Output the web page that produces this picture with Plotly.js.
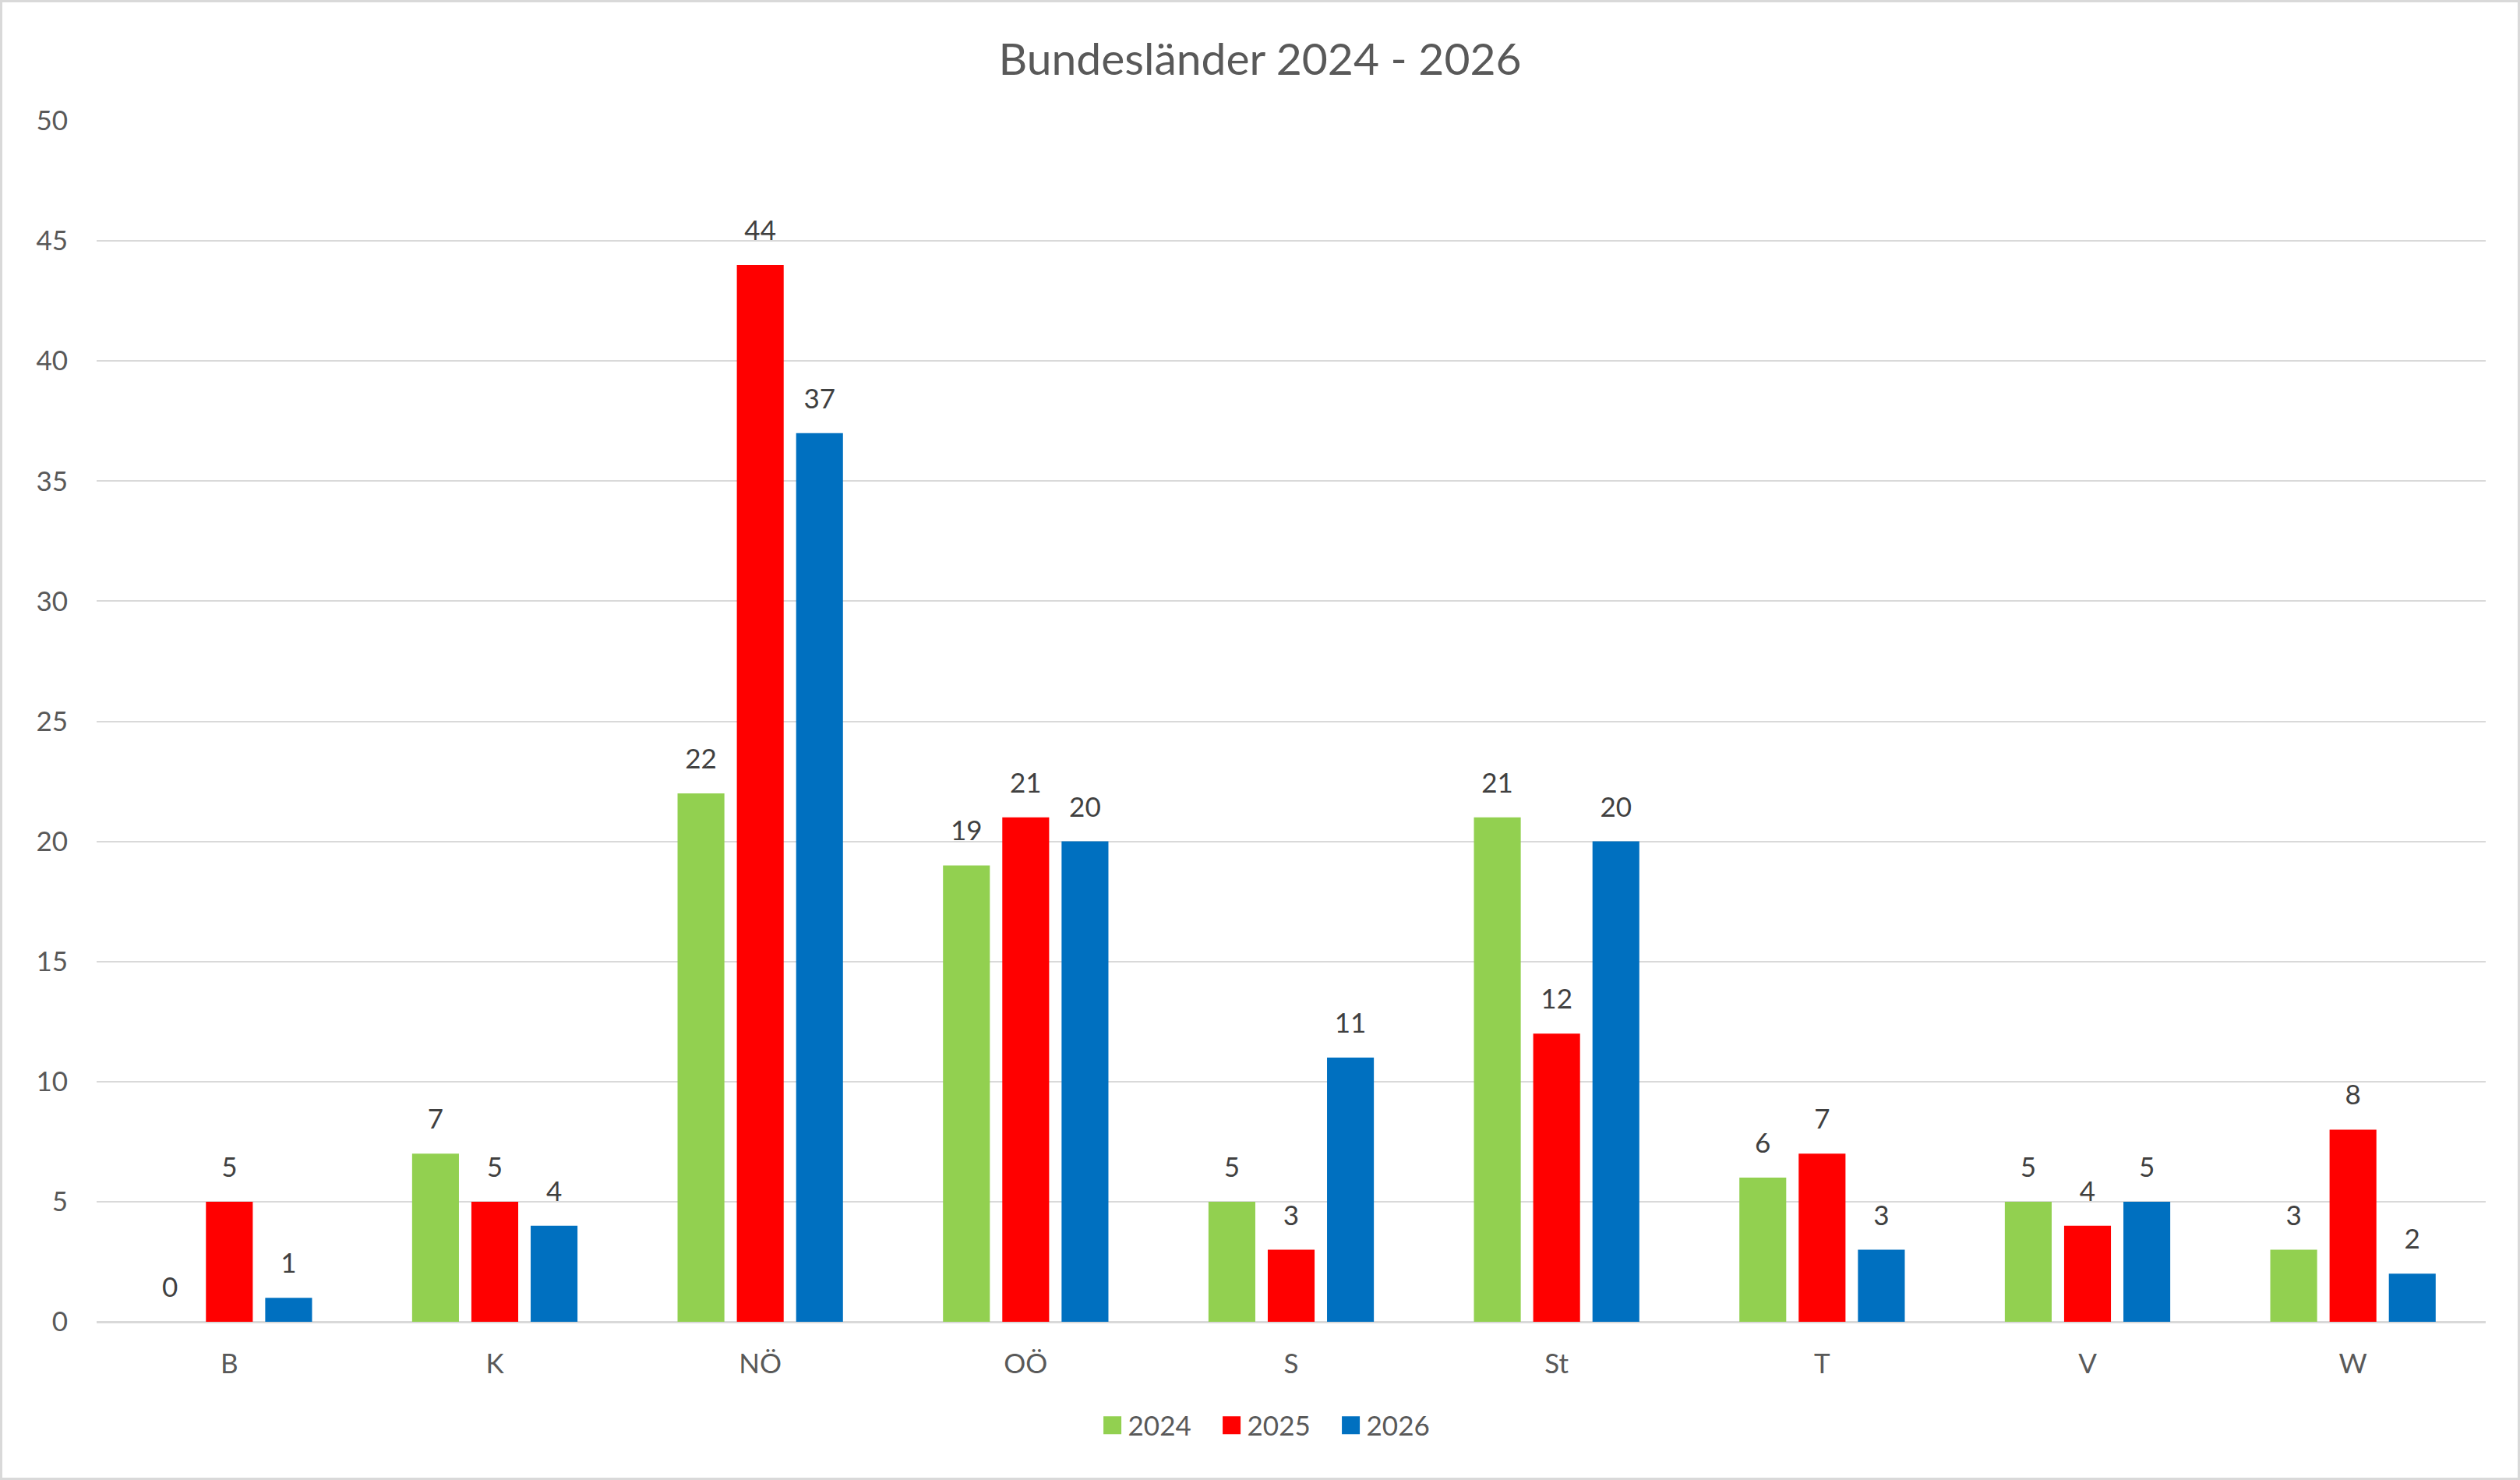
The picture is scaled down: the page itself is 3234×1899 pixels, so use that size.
<!DOCTYPE html>
<html>
<head>
<meta charset="utf-8">
<script src="https://cdn.plot.ly/plotly-3.0.1.min.js"></script>
<style>
  html, body { margin: 0; padding: 0; background: #fff; }
  #wrap { position: relative; width: 3234px; height: 1899px; }
  #chart { width: 3234px; height: 1899px; }
  #frame { position: absolute; left: 0; top: 0; width: 3234px; height: 1899px;
           box-sizing: border-box; border: 3px solid #d9d9d9; pointer-events: none; }
</style>
</head>
<body>
<div id="wrap"><div id="chart"></div><div id="frame"></div></div>
<script>
const categories = ["B", "K", "NÖ", "OÖ", "S", "St", "T", "V", "W"];
const values2024 = [0, 7, 22, 19, 5, 21, 6, 5, 3];
const values2025 = [5, 5, 44, 21, 3, 12, 7, 4, 8];
const values2026 = [1, 4, 37, 20, 11, 20, 3, 5, 2];
const seriesNames = ["2024", "2025", "2026"];
const seriesColors = ["#92d050", "#ff0000", "#0070c0"];
const yTicks = [0, 5, 10, 15, 20, 25, 30, 35, 40, 45, 50];

const FONT = "Lato, 'Open Sans', sans-serif";
const seriesValues = [values2024, values2025, values2026];

const traces = seriesValues.map((vals, i) => ({
  type: "bar",
  name: seriesNames[i],
  x: categories,
  y: vals,
  marker: { color: seriesColors[i], line: { width: 0 } },
  text: vals.map(String),
  textposition: "outside",
  cliponaxis: false,
  textfont: { family: FONT, size: 35, color: "#404040" },
  hoverinfo: "skip"
}));

const layout = {
  width: 3234,
  height: 1899,
  paper_bgcolor: "#ffffff",
  plot_bgcolor: "#ffffff",
  margin: { l: 124, r: 44, t: 155, b: 203 },
  font: { family: FONT, color: "#595959", size: 35 },
  title: {
    text: "Bundesländer 2024 - 2026",
    font: { family: FONT, size: 57, color: "#595959" },
    x: 0.5, xanchor: "center",
    y: 1 - 76 / 1899, yref: "container", yanchor: "middle"
  },
  barmode: "group",
  bargap: 0.33,
  bargroupgap: 0.21,
  xaxis: {
    type: "category",
    showgrid: false,
    showline: false,
    zeroline: false,
    ticks: "",
    ticklabelstandoff: 30,
    tickfont: { family: FONT, size: 35, color: "#595959" },
    fixedrange: true
  },
  yaxis: {
    range: [0, 50],
    tickvals: yTicks,
    ticktext: yTicks.map(String),
    showgrid: true,
    gridcolor: "#d9d9d9",
    gridwidth: 2,
    zeroline: true,
    zerolinecolor: "#d9d9d9",
    zerolinewidth: 3,
    showline: false,
    ticks: "",
    ticklabelstandoff: 36,
    tickfont: { family: FONT, size: 35, color: "#595959" },
    fixedrange: true
  },
  showlegend: true,
  legend: {
    orientation: "h",
    x: 0.4935, xanchor: "center",
    y: -(1829 - 1696) / 1541, yanchor: "middle",
    font: { family: FONT, size: 35, color: "#595959" },
    entrywidth: 108,
    bgcolor: "rgba(0,0,0,0)"
  },
  hovermode: false
};

Plotly.newPlot("chart", traces, layout, { displayModeBar: false, staticPlot: true }).then(gd => {
  // Raise outside value labels to leave a gap above the bars like the original
  gd.querySelectorAll(".barlayer .bartext").forEach(t => {
    const tr = t.getAttribute("transform") || "";
    t.setAttribute("transform", "translate(0,-22) " + tr);
  });
  // Larger square legend swatches
  gd.querySelectorAll(".legend .legendpoints path").forEach(p => {
    p.setAttribute("d", "M11.5,11.5H-11.5V-11.5H11.5Z");
  });
});
</script>
</body>
</html>
